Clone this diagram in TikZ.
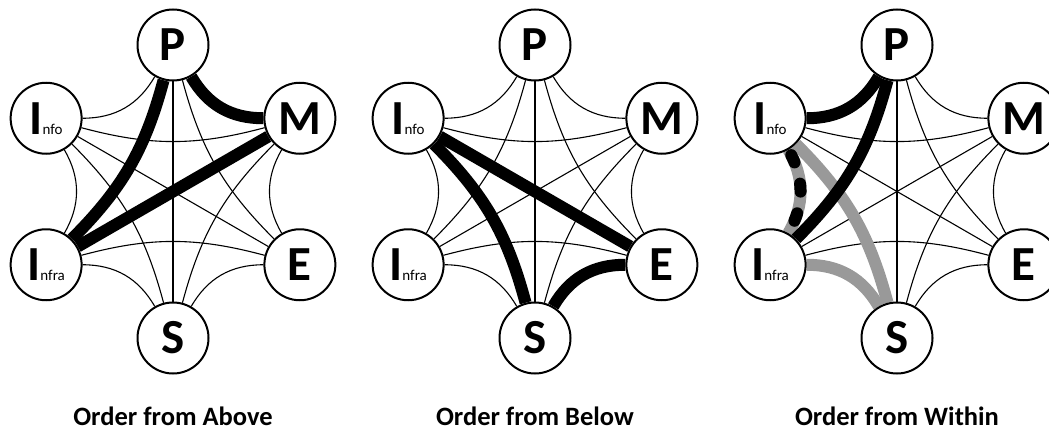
\documentclass[tikz,border=0pt]{standalone}
\usepackage{fontspec}
\setmainfont{Carlito}
\usetikzlibrary{calc}
\pgfdeclarelayer{bg}
\pgfsetlayers{bg,main}
\tikzset{
  hexnode/.style={circle,draw=black,line width=2pt,fill=white,minimum size=71pt,inner sep=0pt,
    font=\fontsize{49}{49}\selectfont\bfseries},
  thinedge/.style={line width=1.1pt,draw=black},
  thickedge/.style={line width=12pt,draw=black},
  grayedge/.style={line width=12pt,draw=black!40},
  dotedge/.style={line width=12pt,draw=black,line cap=round,dash pattern=on 8pt off 22pt,dash phase=24pt},
  adj/.style={bend right=30},
  skp/.style={bend right=15},
  title/.style={anchor=base,font=\fontsize{26.5}{26.5}\selectfont\bfseries},
}
\newcommand\sub[1]{{\fontsize{15}{15}\selectfont\mdseries #1}}
\newcommand\hexnodes[2]{%
  \path (#2,240.5) ++(90:146.5) node[hexnode] (#1P) {P};
  \path (#2,240.5) ++(30:146.5) node[hexnode] (#1M) {M};
  \path (#2,240.5) ++(-30:146.5) node[hexnode] (#1E) {E};
  \path (#2,240.5) ++(-90:146.5) node[hexnode] (#1S) {S};
  \path (#2,240.5) ++(210:146.5) node[hexnode] (#1N) {I\sub{nfra}};
  \path (#2,240.5) ++(150:146.5) node[hexnode] (#1F) {I\sub{nfo}};
}
\begin{document}
\begin{tikzpicture}[x=1pt,y=1pt]
\useasboundingbox (0,0) rectangle (1049,432);
\hexnodes{a}{173}
\hexnodes{b}{535}
\hexnodes{c}{897}
\node[title] (ta) at (173,6.5) {Order from Above};
\node[title] (tb) at (535,6.5) {Order from Below};
\node[title] (tc) at (897,6.5) {Order from Within};
\begin{pgfonlayer}{bg}
% ---- diagram a: Order from Above
\draw[thinedge] (aM) to[adj] (aE);
\draw[thinedge] (aE) to[adj] (aS);
\draw[thinedge] (aS) to[adj] (aN);
\draw[thinedge] (aN) to[adj] (aF);
\draw[thinedge] (aF) to[adj] (aP);
\draw[thinedge] (aP) to[skp] (aE);
\draw[thinedge] (aM) to[skp] (aS);
\draw[thinedge] (aE) to[skp] (aN);
\draw[thinedge] (aS) to[skp] (aF);
\draw[thinedge] (aF) to[skp] (aM);
\draw[thinedge] (aP) -- (aS);
\draw[thinedge] (aE) -- (aF);
\draw[thickedge] (aP) to[adj] (aM);
\draw[thickedge] (aN) to[skp] (aP);
\draw[thickedge] (aM) -- (aN);
% ---- diagram b: Order from Below
\draw[thinedge] (bP) to[adj] (bM);
\draw[thinedge] (bM) to[adj] (bE);
\draw[thinedge] (bS) to[adj] (bN);
\draw[thinedge] (bN) to[adj] (bF);
\draw[thinedge] (bF) to[adj] (bP);
\draw[thinedge] (bP) to[skp] (bE);
\draw[thinedge] (bM) to[skp] (bS);
\draw[thinedge] (bE) to[skp] (bN);
\draw[thinedge] (bN) to[skp] (bP);
\draw[thinedge] (bF) to[skp] (bM);
\draw[thinedge] (bP) -- (bS);
\draw[thinedge] (bM) -- (bN);
\draw[thickedge] (bE) -- (bF);
\draw[thickedge] (bS) to[skp] (bF);
\draw[thickedge] (bE) to[adj] (bS);
% ---- diagram c: Order from Within
\draw[thinedge] (cP) to[adj] (cM);
\draw[thinedge] (cM) to[adj] (cE);
\draw[thinedge] (cE) to[adj] (cS);
\draw[thinedge] (cP) to[skp] (cE);
\draw[thinedge] (cM) to[skp] (cS);
\draw[thinedge] (cE) to[skp] (cN);
\draw[thinedge] (cF) to[skp] (cM);
\draw[thinedge] (cP) -- (cS);
\draw[thinedge] (cM) -- (cN);
\draw[thinedge] (cE) -- (cF);
\draw[grayedge] (cN) to[adj] (cF);
\draw[grayedge] (cS) to[skp] (cF);
\draw[grayedge] (cS) to[adj] (cN);
\draw[dotedge] (cF) to[bend left=30] (cN);
\draw[thickedge] (cF) to[adj] (cP);
\draw[thickedge] (cN) to[skp] (cP);
\end{pgfonlayer}
\end{tikzpicture}
\end{document}
